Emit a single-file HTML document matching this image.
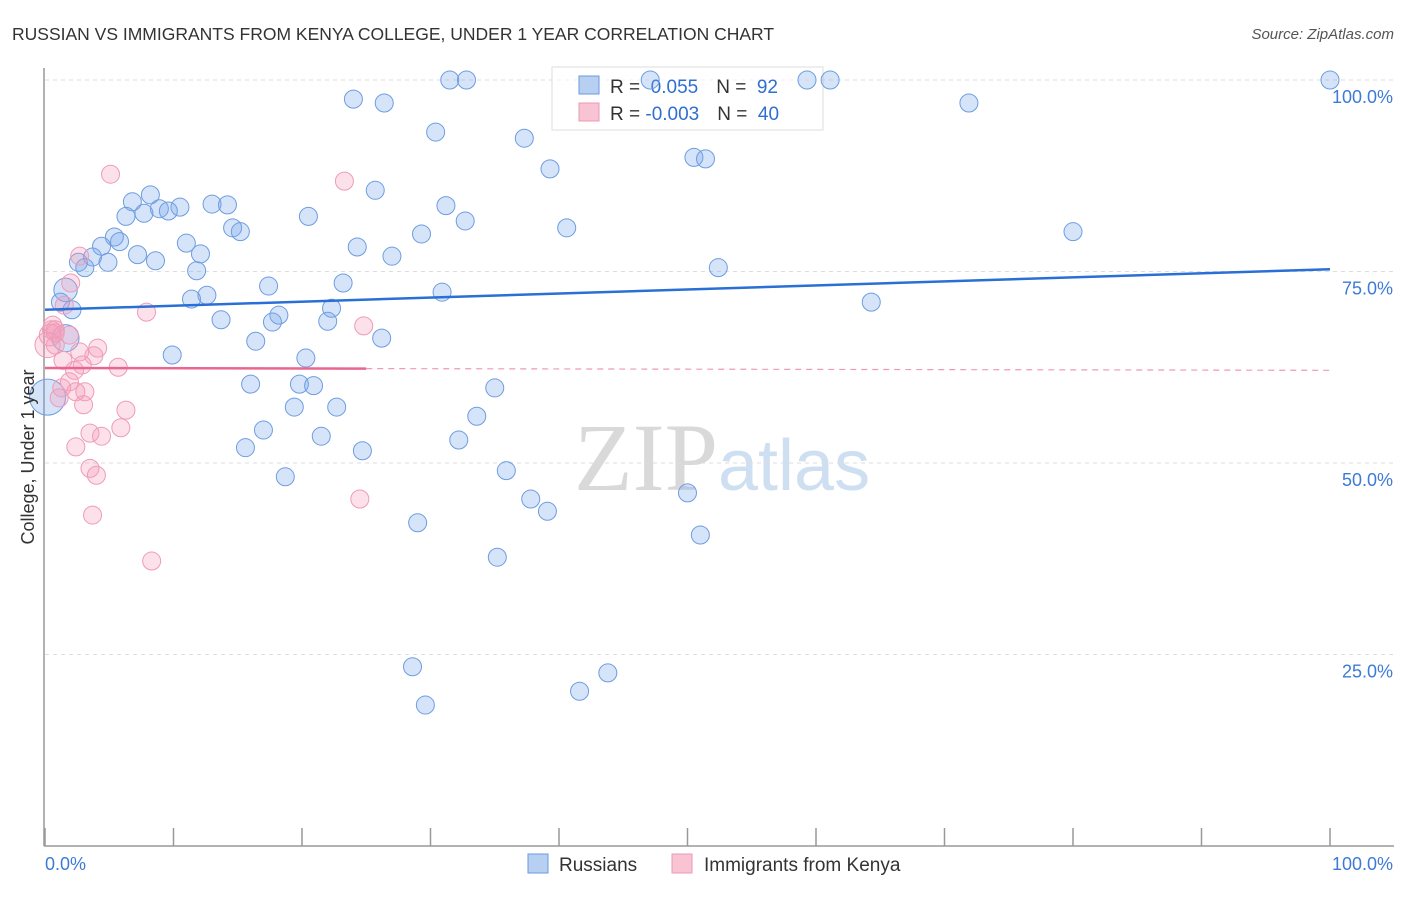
<!DOCTYPE html>
<html><head><meta charset="utf-8"><style>
body{margin:0;background:#fff;font-family:"Liberation Sans",sans-serif;}
</style></head><body>
<svg width="1406" height="892" xmlns="http://www.w3.org/2000/svg" font-family="Liberation Sans, sans-serif">
<text x="12" y="40" font-size="17.5" fill="#333">RUSSIAN VS IMMIGRANTS FROM KENYA COLLEGE, UNDER 1 YEAR CORRELATION CHART</text>
<text x="1394" y="39" font-size="15" fill="#555" font-style="italic" text-anchor="end">Source: ZipAtlas.com</text>
<text x="718" y="490" font-size="96" fill="#d9d9d9" text-anchor="end" font-family="Liberation Serif, serif">ZIP</text>
<text x="718" y="490" font-size="72" fill="#cfdff2">atlas</text>
<g id="grid"></g>
<g id="axes"></g>
<g>
<rect x="552" y="67" width="271" height="63" fill="rgba(255,255,255,0.55)" stroke="#ddd"/>
<rect x="579" y="76" width="20" height="18" fill="#b7d0f2" stroke="#6a9ae0"/>
<rect x="579" y="103" width="20" height="18" fill="#f8c3d3" stroke="#ec9ab4"/>
<text x="610" y="93" font-size="19" fill="#333">R = <tspan fill="#2f6fd0">&#160;0.055</tspan><tspan dx="18" fill="#333">N = </tspan><tspan fill="#2f6fd0">&#160;92</tspan></text>
<text x="610" y="120" font-size="19" fill="#333">R = <tspan fill="#2f6fd0">-0.003</tspan><tspan dx="18" fill="#333">N = </tspan><tspan fill="#2f6fd0">&#160;40</tspan></text>
</g>
<g id="marks"></g>
<text transform="translate(34,457) rotate(-90)" font-size="18" fill="#333" text-anchor="middle">College, Under 1 year</text>
<g>
<rect x="528" y="854" width="20" height="19" fill="#b7d0f2" stroke="#6a9ae0"/>
<text x="559" y="871" font-size="19" fill="#333">Russians</text>
<rect x="672" y="854" width="20" height="19" fill="#f8c3d3" stroke="#ec9ab4"/>
<text x="704" y="871" font-size="19" fill="#333">Immigrants from Kenya</text>
</g>
</svg>
<script>
const yTicks=[25,50,75,100];
const yTickLabels=["25.0%","50.0%","75.0%","100.0%"];
const xEndLabels=["0.0%","100.0%"];
const russiansX=[31.5,32.8,47.1,59.3,61.1,100,24.0,26.4,71.9,30.4,37.3,50.5,51.4,39.3,25.7,8.2,6.8,13.0,14.2,8.9,10.5,9.6,7.7,6.3,20.5,31.2,32.7,14.6,15.2,40.6,29.3,80.0,5.4,5.8,4.4,24.3,11.0,7.2,12.1,27.0,3.7,2.6,4.9,8.6,3.1,11.8,52.4,17.4,23.2,1.6,12.6,11.4,30.9,1.2,2.1,64.3,22.3,18.2,13.7,17.7,22.0,16.4,26.2,9.9,20.3,16.0,19.8,20.9,35.0,19.4,22.7,33.6,17.0,21.5,32.2,15.6,24.7,35.9,18.7,37.8,50.0,39.1,29.0,51.0,35.2,28.6,43.8,41.6,29.6,1.6,0.2];
const russiansY=[100,100,100,100,100,100,97.5,97.0,97.0,93.2,92.4,89.9,89.7,88.4,85.6,85.0,84.1,83.8,83.7,83.2,83.4,82.9,82.6,82.2,82.2,83.6,81.6,80.7,80.2,80.7,79.9,80.2,79.5,78.9,78.3,78.2,78.7,77.2,77.3,77.0,76.9,76.2,76.2,76.4,75.5,75.1,75.5,73.1,73.5,72.6,71.9,71.4,72.3,71.0,70.0,71.0,70.2,69.3,68.7,68.4,68.5,65.9,66.3,64.1,63.7,60.3,60.3,60.1,59.8,57.3,57.3,56.1,54.3,53.5,53.0,52.0,51.6,49.0,48.2,45.3,46.1,43.7,42.2,40.6,37.7,23.4,22.6,20.2,18.4,66.3,58.6];
const russiansSize=[1,1,1,1,1,1,1,1,1,1,1,1,1,1,1,1,1,1,1,1,1,1,1,1,1,1,1,1,1,1,1,1,1,1,1,1,1,1,1,1,1,1,1,1,1,1,1,1,1,1.3,1,1,1,1,1,1,1,1,1,1,1,1,1,1,1,1,1,1,1,1,1,1,1,1,1,1,1,1,1,1,1,1,1,1,1,1,1,1,1,1.5,2];
const kenyaX=[5.1,23.3,2.7,2.0,7.9,1.5,24.8,0.6,0.5,0.4,0.8,1.9,0.8,1.4,4.1,3.8,2.7,5.7,2.3,2.9,1.3,1.9,3.1,2.4,1.1,3.0,6.3,5.9,3.5,4.4,2.4,3.5,4.0,24.5,3.7,8.3,0.2,0.8];
const kenyaY=[87.7,86.8,77.0,73.5,69.7,70.6,67.9,68.0,67.4,66.7,67.4,66.7,65.4,63.4,65.0,64.0,64.5,62.5,62.1,62.8,59.8,60.6,59.3,59.3,58.5,57.6,56.9,54.6,53.9,53.5,52.1,49.3,48.4,45.3,43.2,37.2,65.4,67.0];
const kenyaSize=[1,1,1,1,1,1,1,1,1,1.2,1,1,1,1,1,1,1,1,1,1,1,1,1,1,1,1,1,1,1,1,1,1,1,1,1,1,1.4,1];
const russiansTrend=[70.0,75.3];
const kenyaTrend=[62.4,62.1];
const kenyaSolidEnd=25;
const NS='http://www.w3.org/2000/svg';
const X0=45,X1=1330,Y0=846,Y100=80;
const sx=v=>X0+(X1-X0)*v/100;
const sy=v=>Y0-(Y0-Y100)*v/100;
function mk(tag,attrs,parent){const e=document.createElementNS(NS,tag);for(const k in attrs)e.setAttribute(k,attrs[k]);document.getElementById(parent).appendChild(e);return e;}
yTicks.forEach((t,i)=>{
 const g=mk('line',{x1:X0,x2:1394,y1:sy(t),y2:sy(t),stroke:'#ddd','stroke-dasharray':'4,4'},'grid');
 
 
 const l=mk('text',{x:1393,y:sy(t)+23,'font-size':18,fill:'#3d7bd6','text-anchor':'end'},'axes');
 l.textContent=yTickLabels[i];
 
 
});
const ya=mk('line',{x1:44,x2:44,y1:68,y2:Y0,stroke:'#999','stroke-width':1.5},'axes');


const xa=mk('line',{x1:44,x2:1394,y1:Y0,y2:Y0,stroke:'#999','stroke-width':1.5},'axes');


for(let i=0;i<=10;i++){
 const t=mk('line',{x1:sx(i*10),x2:sx(i*10),y1:Y0,y2:828,stroke:'#999','stroke-width':1.5},'axes');
 
 
}
const xl0=mk('text',{x:45,y:870,'font-size':18,fill:'#3d7bd6'},'axes');xl0.textContent=xEndLabels[0];


const xl1=mk('text',{x:1393,y:870,'font-size':18,fill:'#3d7bd6','text-anchor':'end'},'axes');xl1.textContent=xEndLabels[1];


russiansX.forEach((x,i)=>{
 const c=mk('circle',{cx:sx(x),cy:sy(russiansY[i]),r:9*russiansSize[i],fill:'rgba(120,165,235,0.3)',stroke:'#6d9de0','stroke-width':1},'marks');
 
 
});
kenyaX.forEach((x,i)=>{
 const c=mk('circle',{cx:sx(x),cy:sy(kenyaY[i]),r:9*kenyaSize[i],fill:'rgba(245,155,185,0.3)',stroke:'#ee9cb6','stroke-width':1},'marks');
 
 
});
const rt=mk('line',{x1:sx(0),y1:sy(russiansTrend[0]),x2:sx(100),y2:sy(russiansTrend[1]),stroke:'#2a6fd6','stroke-width':2.5},'marks');


const kyEnd=kenyaTrend[0]+(kenyaTrend[1]-kenyaTrend[0])*kenyaSolidEnd/100;
const kt=mk('line',{x1:sx(0),y1:sy(kenyaTrend[0]),x2:sx(kenyaSolidEnd),y2:sy(kyEnd),stroke:'#e9668f','stroke-width':2.5},'marks');


const kd=mk('line',{x1:sx(kenyaSolidEnd),y1:sy(kyEnd),x2:sx(100),y2:sy(kenyaTrend[1]),stroke:'#ee9ab4','stroke-width':1.2,'stroke-dasharray':'6,5'},'marks');


</script>
</body></html>
